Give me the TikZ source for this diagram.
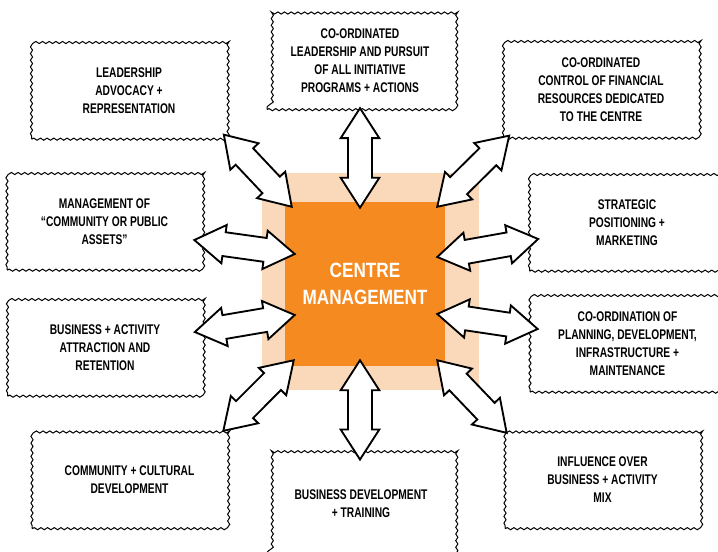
\documentclass[tikz,border=0pt]{standalone}
\usepackage{fontspec}
\setmainfont{Liberation Sans}[FakeStretch=0.76]
\newfontfamily\boxfont{Liberation Sans}[FakeStretch=0.73]
\newfontfamily\hubfont{Liberation Sans}[FakeStretch=0.83]
\usetikzlibrary{calc,decorations.pathmorphing}

\definecolor{hubOrange}{RGB}{245,138,32}
\definecolor{hubPeach}{RGB}{250,217,186}

% block arrow sizes: head length, head half width, shaft half width
\newcommand{\arrhead}{22.5pt}
\newcommand{\arrwide}{14.5pt}
\newcommand{\arrshaft}{9pt}

% white double-headed block arrow between two named points
\newcommand{\dblarrow}[2]{%
  \draw[blockarrow] (#1)
    -- ($(#1)!\arrhead!(#2)!\arrwide!90:(#2)$)
    -- ($(#1)!\arrhead!(#2)!\arrshaft!90:(#2)$)
    -- ($(#2)!\arrhead!(#1)!\arrshaft!-90:(#1)$)
    -- ($(#2)!\arrhead!(#1)!\arrwide!-90:(#1)$)
    -- (#2)
    -- ($(#2)!\arrhead!(#1)!\arrwide!90:(#1)$)
    -- ($(#2)!\arrhead!(#1)!\arrshaft!90:(#1)$)
    -- ($(#1)!\arrhead!(#2)!\arrshaft!-90:(#2)$)
    -- ($(#1)!\arrhead!(#2)!\arrwide!-90:(#2)$)
    -- cycle;}

\tikzset{
  infobox/.style={draw, line width=0.75pt, decorate,
    decoration={snake, amplitude=0.8pt, segment length=5pt},
    align=center, minimum width=146pt, minimum height=73pt,
    font=\boxfont\bfseries\fontsize{10.5}{13.5}\selectfont},
  blockarrow/.style={draw, fill=white, line width=1.4pt, line join=miter}
}

\begin{document}
\begin{tikzpicture}[x=0.75pt, y=-0.75pt]
  \useasboundingbox (0,0) rectangle (718,551);
  \clip (0,0) rectangle (718,551);

  % centre square
  \node[fill=hubPeach, minimum width=162.75pt, minimum height=162.75pt] (halo) at (370.5,281.5) {};
  \node[fill=hubOrange, minimum width=120pt, minimum height=123pt, text=white, align=center,
        font=\hubfont\bfseries\fontsize{15.5}{20}\selectfont] (core) at (365,284) {CENTRE\\MANAGEMENT};

  % the ten roles round it
  \node[infobox] (lead) at (129,90.5) {LEADERSHIP\\ADVOCACY +\\REPRESENTATION};
  \node[infobox, minimum width=139.5pt] (coord) at (360,61) {CO-ORDINATED\\LEADERSHIP AND PURSUIT\\OF ALL INITIATIVE\\PROGRAMS + ACTIONS};
  \node[infobox] (finance) at (601,89.5) {CO-ORDINATED\\CONTROL OF FINANCIAL\\RESOURCES DEDICATED\\TO THE CENTRE};
  \node[infobox] (assets) at (104.5,221.5) {MANAGEMENT OF\\“COMMUNITY OR PUBLIC\\ASSETS”};
  \node[infobox] (strategy) at (627,222.5) {STRATEGIC\\POSITIONING +\\MARKETING};
  \node[infobox] (attract) at (105,347.5) {BUSINESS + ACTIVITY\\ATTRACTION AND\\RETENTION};
  \node[infobox] (planning) at (627.5,343.5) {CO-ORDINATION OF\\PLANNING, DEVELOPMENT,\\INFRASTRUCTURE +\\MAINTENANCE};
  \node[infobox] (culture) at (129.5,480) {COMMUNITY + CULTURAL\\DEVELOPMENT};
  \node[infobox, minimum width=141pt, minimum height=76.5pt] (training) at (361,504) {BUSINESS DEVELOPMENT\\+ TRAINING};
  \node[infobox] (influence) at (602.5,480) {INFLUENCE OVER\\BUSINESS + ACTIVITY\\MIX};

  % arrow tips
  \coordinate (leadout) at ([shift={(-3,-5)}]lead.south east);
  \coordinate (leadin) at ([shift={(7,5)}]core.north west);
  \coordinate (coordout) at ([shift={(0,-2)}]coord.south);
  \coordinate (coordin) at ([shift={(-5,6)}]core.north);
  \coordinate (financeout) at ([shift={(6,-3)}]finance.south west);
  \coordinate (financein) at ([shift={(-8,5)}]core.north east);
  \coordinate (assetsout) at ([shift={(-8,18.5)}]assets.east);
  \coordinate (assetsin) at ([shift={(10,-30)}]core.west);
  \coordinate (strategyout) at ([shift={(9,16.5)}]strategy.west);
  \coordinate (strategyin) at ([shift={(-8,-27)}]core.east);
  \coordinate (attractout) at ([shift={(-8,-15.5)}]attract.east);
  \coordinate (attractin) at ([shift={(10,31)}]core.west);
  \coordinate (planningout) at ([shift={(8,-14.5)}]planning.west);
  \coordinate (planningin) at ([shift={(-8,30)}]core.east);
  \coordinate (cultureout) at ([shift={(-4,0)}]culture.north east);
  \coordinate (culturein) at ([shift={(9,-6)}]core.south west);
  \coordinate (trainingout) at ([shift={(-1,7)}]training.north);
  \coordinate (trainingin) at ([shift={(-5,-6)}]core.south);
  \coordinate (influenceout) at ([shift={(2,2)}]influence.north west);
  \coordinate (influencein) at ([shift={(-8,-6)}]core.south east);

  \dblarrow{leadout}{leadin}
  \dblarrow{coordout}{coordin}
  \dblarrow{financeout}{financein}
  \dblarrow{assetsout}{assetsin}
  \dblarrow{strategyout}{strategyin}
  \dblarrow{attractout}{attractin}
  \dblarrow{planningout}{planningin}
  \dblarrow{cultureout}{culturein}
  \dblarrow{trainingout}{trainingin}
  \dblarrow{influenceout}{influencein}
\end{tikzpicture}
\end{document}
